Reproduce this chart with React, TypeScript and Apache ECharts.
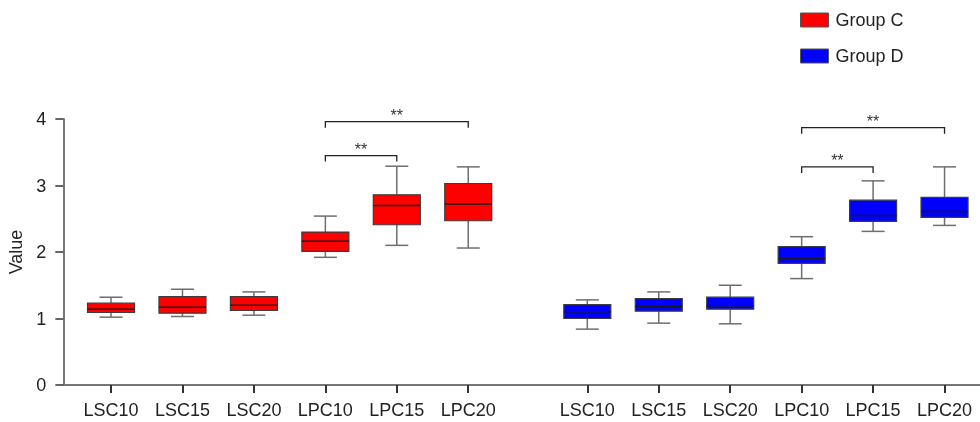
import React, { useEffect, useRef } from 'react';
import * as echarts from 'echarts';

const categories = ['LSC10', 'LSC15', 'LSC20', 'LPC10', 'LPC15', 'LPC20'];

const groupCMin = [1.02, 1.03, 1.05, 1.92, 2.1, 2.06];
const groupCQ1 = [1.09, 1.08, 1.12, 2.01, 2.41, 2.47];
const groupCMedian = [1.14, 1.17, 1.2, 2.16, 2.7, 2.72];
const groupCQ3 = [1.23, 1.33, 1.33, 2.3, 2.86, 3.03];
const groupCMax = [1.32, 1.44, 1.4, 2.54, 3.29, 3.28];

const groupDMin = [0.84, 0.93, 0.92, 1.6, 2.31, 2.4];
const groupDQ1 = [1.0, 1.11, 1.14, 1.83, 2.46, 2.52];
const groupDMedian = [1.1, 1.18, 1.19, 1.9, 2.55, 2.61];
const groupDQ3 = [1.21, 1.3, 1.32, 2.08, 2.78, 2.82];
const groupDMax = [1.28, 1.4, 1.5, 2.23, 3.07, 3.28];

// significance brackets (category indices within a group)
const bracketFrom = [3, 3];
const bracketTo = [4, 5];
const bracketLevelC = [3.45, 3.96];
const bracketLevelD = [3.28, 3.87];
const bracketLabel = ['**', '**'];

const yTicks = [0, 1, 2, 3, 4];

const FONT = '"Liberation Sans", Arial, Helvetica, sans-serif';
const TEXT = '#222';
const GROUP_OFFSET = 20 / 3;

function buildBoxData(offset: number, mins: number[], q1: number[], med: number[], q3: number[], maxs: number[]) {
  return categories.map((_, i) => [i + offset, mins[i], q1[i], med[i], q3[i], maxs[i]]);
}

function boxRenderer(color: string) {
  return (params: any, api: any) => {
    const x = api.value(0);
    const pts = [1, 2, 3, 4, 5].map((d) => api.coord([x, api.value(d)]));
    const cx = pts[0][0];
    const [yMin, yQ1, yMed, yQ3, yMax] = pts.map((p: number[]) => p[1]);
    const bw = 47;
    const cw = 23;
    const whisker = { stroke: '#6e6e6e', lineWidth: 1.5 };
    return {
      type: 'group',
      children: [
        { type: 'line', shape: { x1: cx, y1: yMax, x2: cx, y2: yQ3 }, style: whisker },
        { type: 'line', shape: { x1: cx, y1: yQ1, x2: cx, y2: yMin }, style: whisker },
        { type: 'line', shape: { x1: cx - cw / 2, y1: yMax, x2: cx + cw / 2, y2: yMax }, style: whisker },
        { type: 'line', shape: { x1: cx - cw / 2, y1: yMin, x2: cx + cw / 2, y2: yMin }, style: whisker },
        {
          type: 'rect',
          shape: { x: cx - bw / 2, y: yQ3, width: bw, height: yQ1 - yQ3 },
          style: { fill: color, stroke: '#3c3c3c', lineWidth: 1.2 },
        },
        {
          type: 'line',
          shape: { x1: cx - bw / 2, y1: yMed, x2: cx + bw / 2, y2: yMed },
          style: { stroke: '#1a1a1a', lineWidth: 1.5 },
        },
      ],
    };
  };
}

function bracketRenderer(params: any, api: any) {
  const x1 = api.value(0);
  const x2 = api.value(1);
  const lvl = api.value(2);
  const p1 = api.coord([x1, lvl]);
  const p2 = api.coord([x2, lvl]);
  const drop = 6;
  const label = bracketLabel[params.dataIndex];
  return {
    type: 'group',
    children: [
      {
        type: 'polyline',
        shape: { points: [[p1[0], p1[1] + drop], [p1[0], p1[1]], [p2[0], p2[1]], [p2[0], p2[1] + drop]] },
        style: { stroke: '#222', lineWidth: 1.3, fill: 'none' },
      },
      {
        type: 'text',
        style: {
          text: label,
          x: (p1[0] + p2[0]) / 2,
          y: p1[1] - 6,
          fill: '#333',
          font: `16px ${FONT}`,
          align: 'center',
          verticalAlign: 'middle',
        },
      },
    ],
  };
}

export default function App() {
  const ref = useRef<HTMLDivElement>(null);
  useEffect(() => {
    const chart = echarts.init(ref.current!, null, { renderer: 'svg' });
    const xPositions = categories.map((_, i) => i).concat(categories.map((_, i) => i + GROUP_OFFSET));
    const labelFor = (v: number) => {
      const idx = xPositions.findIndex((p) => Math.abs(p - v) < 0.01);
      return idx < 0 ? '' : categories[idx % categories.length];
    };
    const option: any = {
      animation: false,
      textStyle: { fontFamily: FONT },
      grid: { left: 63.3, right: 0, top: 119, bottom: 37, outerBoundsMode: 'none' },
      legend: {
        orient: 'vertical',
        left: 800,
        top: 11,
        padding: 0,
        itemWidth: 28,
        itemHeight: 14,
        itemGap: 18,
        selectedMode: false,
        textStyle: { fontSize: 18, color: TEXT, fontFamily: FONT, padding: [0, 0, 0, 2] },
        data: [
          { name: 'Group C', icon: 'rect', itemStyle: { color: '#ff0000', borderColor: '#555', borderWidth: 1 } },
          { name: 'Group D', icon: 'rect', itemStyle: { color: '#0000ff', borderColor: '#555', borderWidth: 1 } },
        ],
      },
      xAxis: {
        type: 'value',
        min: -0.668,
        max: 12.163,
        splitLine: { show: false },
        axisLine: { show: true, onZero: false, lineStyle: { color: '#777', width: 2 } },
        axisTick: { show: true, customValues: xPositions, length: 8, lineStyle: { color: '#333', width: 2 } },
        axisLabel: {
          customValues: xPositions,
          formatter: (v: number) => labelFor(v),
          fontSize: 18,
          color: TEXT,
          margin: 16,
          fontFamily: FONT,
        },
      },
      yAxis: {
        type: 'value',
        min: yTicks[0],
        max: yTicks[yTicks.length - 1],
        interval: 1,
        name: 'Value',
        nameLocation: 'middle',
        nameGap: 38,
        nameMoveOverlap: false,
        nameTextStyle: { fontSize: 18, color: TEXT, fontFamily: FONT },
        splitLine: { show: false },
        axisLine: { show: true, onZero: false, lineStyle: { color: '#777', width: 2 } },
        axisTick: { show: true, length: 8, lineStyle: { color: '#333', width: 1.5 } },
        axisLabel: { fontSize: 18, color: TEXT, margin: 17, fontFamily: FONT },
      },
      series: [
        {
          name: 'Group C',
          type: 'custom',
          itemStyle: { color: '#ff0000' },
          encode: { x: 0, y: [1, 2, 3, 4, 5] },
          renderItem: boxRenderer('#ff0000'),
          data: buildBoxData(0, groupCMin, groupCQ1, groupCMedian, groupCQ3, groupCMax),
        },
        {
          name: 'Group D',
          type: 'custom',
          itemStyle: { color: '#0000ff' },
          encode: { x: 0, y: [1, 2, 3, 4, 5] },
          renderItem: boxRenderer('#0000ff'),
          data: buildBoxData(GROUP_OFFSET, groupDMin, groupDQ1, groupDMedian, groupDQ3, groupDMax),
        },
        {
          name: 'bracketsC',
          type: 'custom',
          encode: { x: [0, 1], y: 2 },
          renderItem: bracketRenderer,
          data: bracketFrom.map((f, i) => [f, bracketTo[i], bracketLevelC[i]]),
        },
        {
          name: 'bracketsD',
          type: 'custom',
          encode: { x: [0, 1], y: 2 },
          renderItem: bracketRenderer,
          data: bracketFrom.map((f, i) => [f + GROUP_OFFSET, bracketTo[i] + GROUP_OFFSET, bracketLevelD[i]]),
        },
      ],
    };
    chart.setOption(option);
    return () => chart.dispose();
  }, []);
  return <div ref={ref} style={{ position: 'fixed', left: 0, top: 0, width: 980, height: 422 }} />;
}
